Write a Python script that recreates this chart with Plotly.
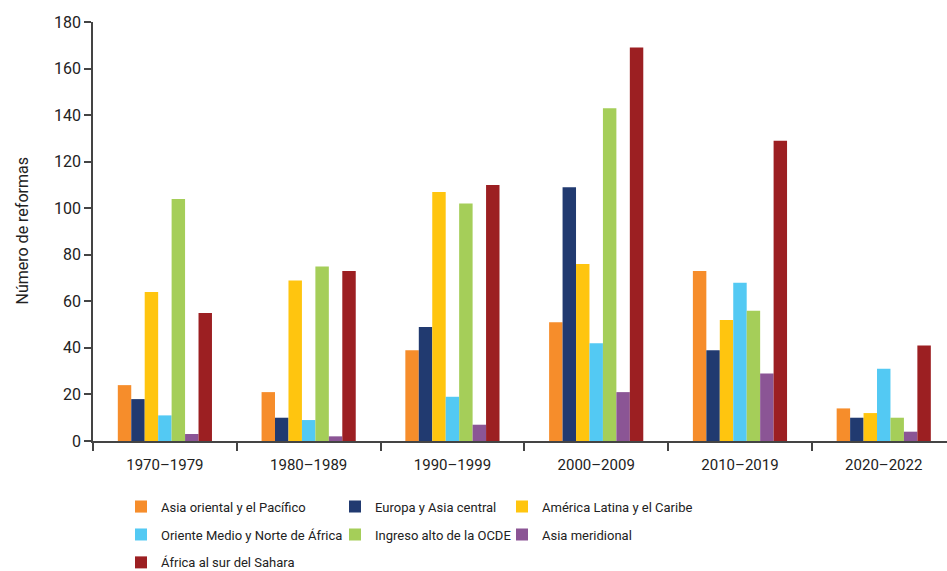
import plotly.graph_objects as go

periods = ["1970–1979", "1980–1989", "1990–1999", "2000–2009", "2010–2019", "2020–2022"]
regions = ["Asia oriental y el Pacífico", "Europa y Asia central", "América Latina y el Caribe",
           "Oriente Medio y Norte de África", "Ingreso alto de la OCDE", "Asia meridional",
           "África al sur del Sahara"]
asia_oriental = [24, 21, 39, 51, 73, 14]
europa_asia_central = [18, 10, 49, 109, 39, 10]
america_latina = [64, 69, 107, 76, 52, 12]
oriente_medio = [11, 9, 19, 42, 68, 31]
ingreso_alto = [104, 75, 102, 143, 56, 10]
asia_meridional = [3, 2, 7, 21, 29, 4]
africa_sur = [55, 73, 110, 169, 129, 41]
y_title = "Número de reformas"

series = [asia_oriental, europa_asia_central, america_latina, oriente_medio,
          ingreso_alto, asia_meridional, africa_sur]
colors = ["#F68D2B", "#213A70", "#FFC50F", "#53C9F3", "#A5CE59", "#8B5595", "#9C1F22"]
legends = ["legend", "legend2", "legend3", "legend", "legend2", "legend3", "legend"]

FONT = "Roboto, sans-serif"

fig = go.Figure()
for i, (name, vals) in enumerate(zip(regions, series)):
    fig.add_trace(go.Bar(x=periods, y=vals, name=name, marker=dict(color=colors[i], line=dict(width=0)),
                         legend=legends[i], legendgroup=name))

leg_common = dict(orientation="v", yref="container", xref="container", yanchor="top", y=0.139,
                  xanchor="left", font=dict(family=FONT, size=13, color="#222"),
                  bgcolor="rgba(0,0,0,0)", tracegroupgap=8, itemwidth=30)
fig.update_layout(
    width=947, height=571,
    margin=dict(l=93, r=0, t=22, b=130, autoexpand=False),
    paper_bgcolor="white", plot_bgcolor="white",
    barmode="group", bargap=0.345, bargroupgap=0,
    font=dict(family=FONT, size=16, color="#222"),
    legend=dict(x=121 / 947, **leg_common),
    legend2=dict(x=335 / 947, **leg_common),
    legend3=dict(x=502 / 947, **leg_common),
    xaxis=dict(range=[-0.5, 5.44], showline=True, linecolor="#444", linewidth=1.5,
               ticks="outside", tickson="boundaries", ticklen=8, tickcolor="#444", tickwidth=1.5,
               ticklabelstandoff=9,
               showgrid=False, tickfont=dict(family=FONT, size=15, color="#222")),
    yaxis=dict(range=[0, 180], dtick=20, showline=True, linecolor="#444", linewidth=1.5,
               ticks="outside", ticklen=7, tickcolor="#444", tickwidth=1.5, showgrid=False,
               zeroline=False, tickfont=dict(family=FONT, size=16, color="#222")),
    annotations=[dict(text=y_title, xref="paper", yref="paper", x=0, y=0.5, xshift=-71,
                      textangle=-90, showarrow=False, xanchor="center", yanchor="middle",
                      font=dict(family=FONT, size=16, color="#222"))],
)
fig.write_html("out.html", config={"displayModeBar": False},
               post_script="document.body.style.margin='0';document.body.style.overflow='hidden';")
